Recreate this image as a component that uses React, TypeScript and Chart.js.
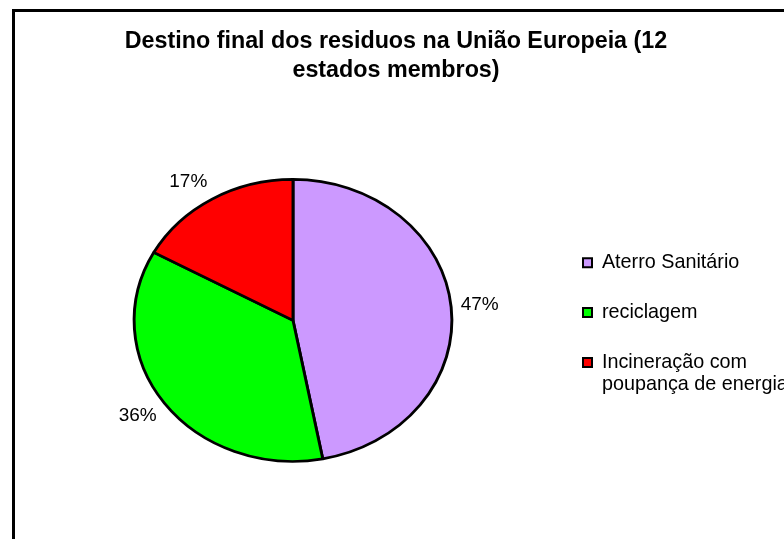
import React, { useEffect, useRef } from "react";
import { Chart, registerables } from "chart.js";

Chart.register(...registerables);

// ---- data ----
const titleLines = ["Destino final dos residuos na União Europeia (12", "estados membros)"];
const categories: (string | string[])[] = [
  "Aterro Sanitário",
  "reciclagem",
  ["Incineração com", "poupança de energia"],
];
const values = [47, 36, 17];
const sliceColors = ["#CC99FF", "#00FF00", "#FF0000"];

// ---- styling / layout constants ----
const W = 800;
const H = 560;
const SX = 160 / 142; // horizontal stretch of the pie (ellipse)
const LABEL_K = 1.06;
const FONT = "'Liberation Sans', Arial, Helvetica, sans-serif";

const framePlugin = {
  id: "frame",
  beforeDraw(chart: any) {
    const ctx = chart.ctx;
    ctx.save();
    ctx.fillStyle = "#fff";
    ctx.fillRect(0, 0, chart.width, chart.height);
    ctx.strokeStyle = "#000";
    ctx.lineWidth = 3;
    ctx.strokeRect(13.5, 10.5, chart.width + 20, chart.height + 20);
    ctx.restore();
  },
};

// let the legend text run past its box (it is cut by the frame edge in the original)
const legendPlacePlugin = {
  id: "legendPlace",
  afterLayout(chart: any) {
    const lg = chart.legend;
    if (!lg) return;
    lg.right = chart.width;
    lg.width = lg.right - lg.left;
    lg.top += 4.5;
    lg.bottom += 4.5;
  },
};

const ellipsePlugin = {
  id: "ellipse",
  beforeDatasetsDraw(chart: any) {
    const arc = chart.getDatasetMeta(0).data[0];
    const cx = arc ? arc.x : (chart.chartArea.left + chart.chartArea.right) / 2;
    const cy = arc ? arc.y : (chart.chartArea.top + chart.chartArea.bottom) / 2;
    const ctx = chart.ctx;
    ctx.save();
    ctx.translate(cx, cy);
    ctx.scale(SX, 1);
    ctx.translate(-cx, -cy);
  },
  afterDatasetsDraw(chart: any) {
    chart.ctx.restore();
  },
};

const pctPlugin = {
  id: "pct",
  afterDraw(chart: any) {
    const meta = chart.getDatasetMeta(0);
    const ds = chart.data.datasets[0].data as number[];
    const total = ds.reduce((a, b) => a + b, 0);
    const ctx = chart.ctx;
    ctx.save();
    ctx.font = `19px ${FONT}`;
    ctx.fillStyle = "#000";
    ctx.textBaseline = "middle";
    meta.data.forEach((arc: any, i: number) => {
      const p = arc.getProps(["x", "y", "startAngle", "endAngle", "outerRadius"], true);
      const mid = (p.startAngle + p.endAngle) / 2;
      const r = p.outerRadius * LABEL_K;
      const c = Math.cos(mid);
      const s = Math.sin(mid);
      ctx.textAlign = c >= 0 ? "left" : "right";
      ctx.fillText(
        Math.round((ds[i] / total) * 100) + "%",
        p.x + SX * r * c,
        p.y + r * s + s * 12
      );
    });
    ctx.restore();
  },
};

export default function App() {
  const ref = useRef<HTMLCanvasElement | null>(null);

  useEffect(() => {
    if (!ref.current) return;
    const chart = new Chart(ref.current, {
      type: "pie",
      data: {
        labels: categories as any,
        datasets: [
          {
            data: values,
            backgroundColor: sliceColors,
            borderColor: "#000",
            borderWidth: 2.6,
          },
        ],
      },
      options: {
        responsive: false,
        animation: false,
        radius: 141,
        layout: { padding: { left: 33, right: W - 759, top: 0, bottom: H - 540 } },
        plugins: {
          title: {
            display: true,
            text: titleLines,
            color: "#000",
            font: { family: FONT, size: 23.3, weight: "bold", lineHeight: 1.25 },
            padding: { top: 27, bottom: 15.5 },
          },
          legend: {
            position: "right",
            fullSize: false,
            maxWidth: 206,
            labels: {
              color: "#000",
              font: { family: FONT, size: 19.8, lineHeight: 1.12 },
              boxWidth: 9,
              boxHeight: 9,
              padding: 30,
              generateLabels(c: any) {
                const items = (Chart as any).overrides.pie.plugins.legend.labels.generateLabels(c);
                return items.map((it: any) => ({ ...it, lineWidth: 2, strokeStyle: "#000" }));
              },
            },
          },
          tooltip: { enabled: false },
        },
      } as any,
      plugins: [framePlugin, legendPlacePlugin, ellipsePlugin, pctPlugin],
    });
    return () => chart.destroy();
  }, []);

  return (
    <div
      style={{
        position: "fixed",
        left: 0,
        top: 0,
        width: 784,
        height: 539,
        overflow: "hidden",
        background: "#fff",
      }}
    >
      <canvas ref={ref} width={W} height={H} style={{ display: "block", width: W, height: H }} />
    </div>
  );
}
